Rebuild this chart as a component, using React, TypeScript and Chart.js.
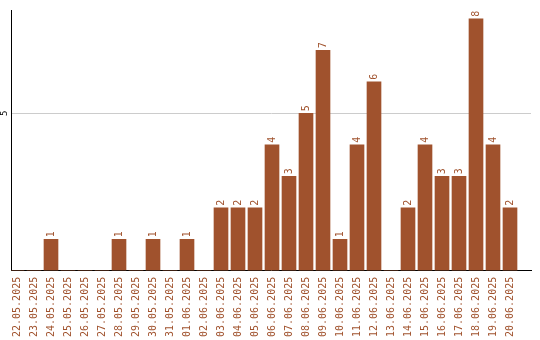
import React, { useEffect, useRef } from "react";
import { Chart, registerables } from "chart.js";

Chart.register(...registerables);

const dates: string[] = [
  "22.05.2025", "23.05.2025", "24.05.2025", "25.05.2025", "26.05.2025",
  "27.05.2025", "28.05.2025", "29.05.2025", "30.05.2025", "31.05.2025",
  "01.06.2025", "02.06.2025", "03.06.2025", "04.06.2025", "05.06.2025",
  "06.06.2025", "07.06.2025", "08.06.2025", "09.06.2025", "10.06.2025",
  "11.06.2025", "12.06.2025", "13.06.2025", "14.06.2025", "15.06.2025",
  "16.06.2025", "17.06.2025", "18.06.2025", "19.06.2025", "20.06.2025",
];
const counts: number[] = [
  0, 0, 1, 0, 0, 0, 1, 0, 1, 0,
  1, 0, 2, 2, 2, 4, 3, 5, 7, 1,
  4, 6, 0, 2, 4, 3, 3, 8, 4, 2,
];
const yTickValues: number[] = [5];

const BAR = "#a0522d";
const FONT = "'DejaVu Sans Mono', monospace";

const labelsPlugin = {
  id: "labelsPlugin",
  afterDatasetsDraw(chart: any) {
    const ctx = chart.ctx;
    const meta = chart.getDatasetMeta(0);
    ctx.save();
    ctx.fillStyle = BAR;
    ctx.font = `10px ${FONT}`;
    ctx.textAlign = "left";
    ctx.textBaseline = "middle";
    meta.data.forEach((el: any, i: number) => {
      const v = counts[i];
      if (!v) return;
      ctx.save();
      ctx.translate(el.x, el.y - 2);
      ctx.rotate(-Math.PI / 2);
      ctx.fillText(String(v), 0, 0);
      ctx.restore();
    });
    const ys = chart.scales.y;
    ctx.fillStyle = "#000";
    ctx.font = `9px ${FONT}`;
    ctx.textAlign = "center";
    ctx.textBaseline = "middle";
    yTickValues.forEach((t) => {
      ctx.save();
      ctx.translate(5, ys.getPixelForValue(t));
      ctx.rotate(-Math.PI / 2);
      ctx.fillText(String(t), 0, 0);
      ctx.restore();
    });
    ctx.restore();
  },
};

export default function App() {
  const ref = useRef<HTMLCanvasElement | null>(null);
  useEffect(() => {
    if (!ref.current) return;
    const chart = new Chart(ref.current, {
      type: "bar",
      data: {
        datasets: [
          {
            data: counts.map((c, i) => ({ x: i, y: c })),
            backgroundColor: BAR,
            borderWidth: 0,
            barThickness: 14,
          },
        ],
      },
      options: {
        animation: false,
        responsive: true,
        maintainAspectRatio: false,
        layout: { padding: { left: 11, right: 9, top: 10, bottom: -3 } },
        plugins: { legend: { display: false }, tooltip: { enabled: false } },
        scales: {
          x: {
            type: "linear",
            offset: false,
            min: -6 / 17,
            max: 30 + 4 / 17,
            afterFit: (s: any) => {
              s.paddingLeft = 0;
              s.paddingRight = 0;
            },
            grid: { display: false, drawTicks: false, offset: false },
            border: { display: true, color: "#000", width: 1 },
            ticks: {
              stepSize: 1,
              maxTicksLimit: 100,
              includeBounds: false,
              autoSkip: false,
              minRotation: 90,
              maxRotation: 90,
              padding: 6,
              color: BAR,
              font: { family: FONT, size: 10 },
              callback: (v: any) => {
                const n = Number(v);
                return Number.isInteger(n) && dates[n] ? dates[n] : "";
              },
            },
          },
          y: {
            min: 0,
            max: 8.28,
            grid: {
              drawTicks: false,
              color: (c: any) => (c.tick && c.tick.value === 5 ? "#cccccc" : "rgba(0,0,0,0)"),
              lineWidth: 1,
            },
            border: { display: true, color: "#000", width: 1 },
            ticks: { display: false, stepSize: 5, includeBounds: false },
          },
        },
      },
      plugins: [labelsPlugin],
    });
    return () => chart.destroy();
  }, []);
  return (
    <div style={{ position: "absolute", left: 0, top: 0, width: 540, height: 340 }}>
      <canvas ref={ref} />
    </div>
  );
}
